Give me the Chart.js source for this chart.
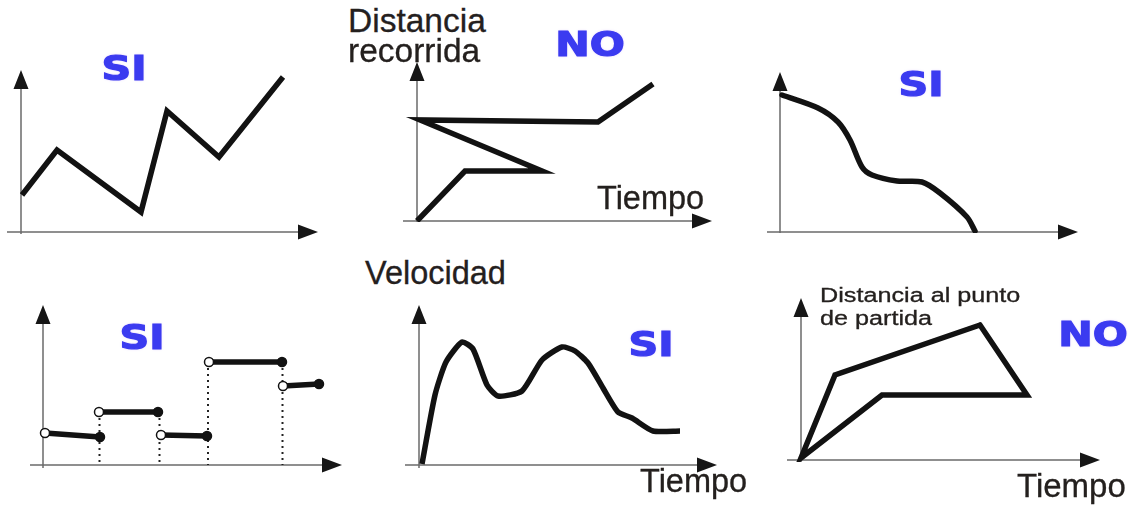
<!DOCTYPE html>
<html>
<head>
<meta charset="utf-8">
<script src="https://cdn.jsdelivr.net/npm/chart.js@4/dist/chart.umd.min.js"></script>
<style>
    body { margin: 0; background: #fff; }
    #board { position: relative; width: 1128px; height: 506px; overflow: hidden; background: #fff; }
    #board canvas { position: absolute; }
    .axis-label {
        position: absolute;
        white-space: nowrap;
        font-family: 'Liberation Sans', Arial, sans-serif;
        color: #24201e;
        line-height: 1;
        transform-origin: left top;
        -webkit-text-stroke: 0.3px #24201e;
        z-index: 2;
    }
    .verdict {
        position: absolute;
        font-family: 'DejaVu Sans', Verdana, sans-serif;
        font-weight: 700;
        font-size: 33px;
        line-height: 1;
        color: #3b3bf0;
        -webkit-text-stroke: 1.2px #3b3bf0;
        text-shadow: 0 0 2px rgba(150, 90, 255, 0.55);
        transform: translate(-50%, -50%) scaleX(1.25);
        z-index: 2;
    }
</style>
</head>
<body>
<div id="board"></div>
<script>
// 1: position zig-zag (SI)
const zigzagX = [1, 36, 120, 146, 198, 262]
const zigzagY = [37, 82, 20, 121, 75, 155]

// 2: distance that goes back in time (NO)
const loopX = [0, 48, 125, 3, 181, 236]
const loopY = [0, 50, 50, 101, 99, 137]

// 3: smooth decreasing curve (SI)
const fallX = [2, 38, 58, 70, 82, 92, 117, 142, 160, 187, 195]
const fallY = [137, 124, 110, 92, 65, 57, 51, 50, 39, 15, 1]

// 4: step function, open start / closed end of each step (SI)
const stepStartX = [2, 56, 118, 166, 240]
const stepEndX = [57, 115, 164, 239, 276]
const stepStartY = [32, 53, 30, 103, 79]
const stepEndY = [28, 53, 29, 103, 81]

// 5: speed over time (SI)
const speedX = [3, 16, 27, 43, 54, 68, 79, 103, 123, 143, 156, 169, 184, 199, 213, 234, 261]
const speedY = [1, 70, 103, 123, 116, 80, 69, 74, 105, 118, 114, 102, 77, 53, 47, 34, 34]

// 6: distance to the start that loops back (NO)
const returnX = [179, 226, 81, 0, 34, 179]
const returnY = [135, 65, 65, 2, 85, 135]

const verdicts = ['SI', 'NO', 'SI', 'SI', 'SI', 'NO']

// where each small graph sits on the board, in pixels
const panels = [
    {origin: [21, 232], xMin: -14, xMax: 297, yMin: -2, yMax: 162, verdictAt: [124, 68]},
    {origin: [417, 221], xMin: -14, xMax: 295, yMin: -1, yMax: 159, verdictAt: [590, 44]},
    {origin: [780, 232], xMin: -13, xMax: 298, yMin: -1, yMax: 160, verdictAt: [921, 84]},
    {origin: [43, 465], xMin: -13, xMax: 299, yMin: -3, yMax: 160, verdictAt: [142, 337]},
    {origin: [419, 465], xMin: -14, xMax: 298, yMin: -3, yMax: 160, verdictAt: [651, 344]},
    {origin: [801, 460], xMin: -14, xMax: 299, yMin: -2, yMax: 162, verdictAt: [1093, 334]},
]

const axisLabels = [
    {text: 'Distancia', x: 348, y: 32, size: 33.5},
    {text: 'recorrida', x: 348, y: 62, size: 33.5},
    {text: 'Tiempo', x: 597, y: 210, size: 32.5},
    {text: 'Velocidad', x: 365, y: 285, size: 32.5},
    {text: 'Tiempo', x: 640, y: 493, size: 32.5},
    {text: 'Distancia al punto', x: 820, y: 302, size: 20, stretch: 1.26},
    {text: 'de partida', x: 820, y: 325, size: 20, stretch: 1.26},
    {text: 'Tiempo', x: 1017, y: 497, size: 33},
]

const board = document.getElementById('board')
const inkColor = '#121212'

const axisArrows = {
    id: 'axisArrows',
    beforeDatasetsDraw(chart) {
        const {ctx, scales: {x, y}} = chart
        const x0 = x.getPixelForValue(0)
        const y0 = y.getPixelForValue(0)
        const xEnd = x.getPixelForValue(x.max)
        const yEnd = y.getPixelForValue(y.max)
        ctx.save()
        ctx.strokeStyle = '#6b6b6b'
        ctx.lineWidth = 1.5
        ctx.beginPath()
        ctx.moveTo(x.getPixelForValue(x.min), y0)
        ctx.lineTo(xEnd - 10, y0)
        ctx.moveTo(x0, y.getPixelForValue(y.min))
        ctx.lineTo(x0, yEnd + 10)
        ctx.stroke()
        ctx.fillStyle = '#161616'
        ctx.beginPath()
        ctx.moveTo(xEnd, y0)
        ctx.lineTo(xEnd - 20, y0 - 7.5)
        ctx.lineTo(xEnd - 20, y0 + 7.5)
        ctx.closePath()
        ctx.moveTo(x0, yEnd)
        ctx.lineTo(x0 - 7.5, yEnd + 19)
        ctx.lineTo(x0 + 7.5, yEnd + 19)
        ctx.closePath()
        ctx.fill()
        ctx.restore()
    },
}

function toPoints(xs, ys) {
    return xs.map((x, i) => ({x, y: ys[i]}))
}

function pathDataset(xs, ys, extra) {
    return Object.assign({
        data: toPoints(xs, ys),
        showLine: true,
        borderColor: inkColor,
        borderWidth: 5.5,
        pointRadius: 0,
        borderJoinStyle: 'miter',
        borderCapStyle: 'butt',
        tension: 0,
        order: 1,
    }, extra)
}

function drawPanel(panel, datasets) {
    const pad = 12
    const canvas = document.createElement('canvas')
    canvas.width = panel.xMax - panel.xMin + pad * 2
    canvas.height = panel.yMax - panel.yMin + pad * 2
    canvas.style.left = `${panel.origin[0] + panel.xMin - pad}px`
    canvas.style.top = `${panel.origin[1] - panel.yMax - pad}px`
    board.appendChild(canvas)

    new Chart(canvas, {
        type: 'scatter',
        plugins: [axisArrows],
        data: {datasets},
        options: {
            responsive: false,
            animation: false,
            events: [],
            layout: {padding: pad},
            plugins: {
                legend: {display: false},
                tooltip: {enabled: false},
            },
            scales: {
                x: {type: 'linear', display: false, min: panel.xMin, max: panel.xMax},
                y: {type: 'linear', display: false, min: panel.yMin, max: panel.yMax},
            },
        },
    })
}

function stepDatasets() {
    const sets = []
    stepStartX.forEach((x, i) => {
        sets.push(pathDataset([x, stepEndX[i]], [stepStartY[i], stepEndY[i]], {
            pointRadius: 4.5,
            pointBorderWidth: 1.5,
            pointBorderColor: inkColor,
            pointBackgroundColor: ['#ffffff', inkColor],
        }))
        if (i === 0) return
        // dotted drop from the jump down to the time axis
        const jumpX = (stepEndX[i - 1] + x) / 2
        const jumpTop = Math.max(stepEndY[i - 1], stepStartY[i])
        sets.push(pathDataset([jumpX, jumpX], [jumpTop, 0], {
            borderWidth: 2,
            borderDash: [2, 4],
            borderColor: '#222',
            order: 2,
        }))
    })
    return sets
}

drawPanel(panels[0], [pathDataset(zigzagX, zigzagY)])
drawPanel(panels[1], [pathDataset(loopX, loopY)])
drawPanel(panels[2], [pathDataset(fallX, fallY, {tension: 0.3, borderJoinStyle: 'round', borderCapStyle: 'round'})])
drawPanel(panels[3], stepDatasets())
drawPanel(panels[4], [pathDataset(speedX, speedY, {tension: 0.2, borderJoinStyle: 'round'})])
drawPanel(panels[5], [pathDataset(returnX, returnY, {borderCapStyle: 'round'})])

axisLabels.forEach(label => {
    const el = document.createElement('div')
    el.className = 'axis-label'
    el.textContent = label.text
    el.style.fontSize = `${label.size}px`
    el.style.left = `${label.x}px`
    el.style.top = `${label.y - label.size * 0.8465}px`
    if (label.stretch) el.style.transform = `scaleX(${label.stretch})`
    board.appendChild(el)
})

verdicts.forEach((text, i) => {
    const el = document.createElement('div')
    el.className = 'verdict'
    el.textContent = text
    el.style.left = `${panels[i].verdictAt[0]}px`
    el.style.top = `${panels[i].verdictAt[1]}px`
    board.appendChild(el)
})
</script>
</body>
</html>
